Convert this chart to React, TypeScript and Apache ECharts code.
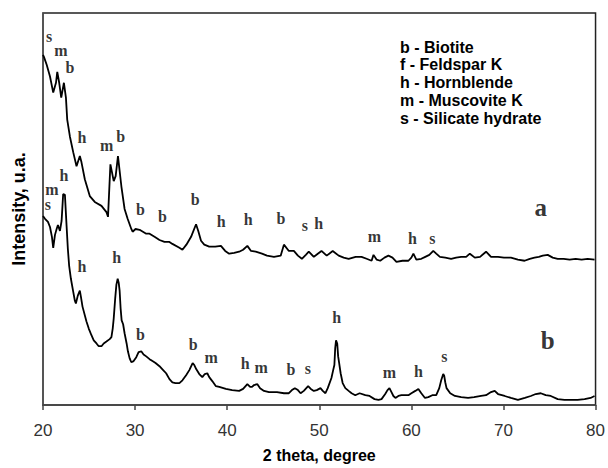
import React, { useEffect, useRef } from "react";
import * as echarts from "echarts";

// 2-theta positions (degree) and intensities (arbitrary units) of pattern a
const curveA: number[][] = [
  [20.0, 89.3], [20.1, 88.8], [20.4, 86.8], [20.76, 83.8], [21.11, 79.7], [21.41, 82.2], [21.55, 85.0],
  [21.76, 82.2], [21.98, 78.4], [22.27, 82.2], [22.49, 78.4], [22.63, 72.8], [22.92, 68.5], [23.28, 64.5],
  [23.64, 60.9], [24.0, 63.5], [24.18, 61.9], [24.54, 57.6], [25.08, 53.3], [25.62, 51.8], [26.35, 50.8],
  [26.89, 49.2], [27.06, 48.0], [27.32, 61.4], [27.68, 57.1], [27.89, 58.4], [28.14, 63.5], [28.51, 55.8],
  [28.86, 50.0], [29.19, 47.5], [29.59, 44.9], [29.73, 44.2], [30.05, 44.9], [30.49, 44.7], [31.21, 43.7],
  [31.57, 43.7], [32.11, 42.9], [32.65, 42.1], [33.19, 41.6], [33.73, 41.6], [34.05, 41.1], [34.81, 40.1],
  [35.14, 39.6], [35.57, 40.9], [36.08, 42.9], [36.62, 46.1], [36.86, 44.4], [37.16, 41.9], [37.51, 40.9],
  [38.05, 40.4], [38.7, 40.4], [39.32, 40.6], [39.78, 39.3], [40.22, 38.6], [40.76, 38.8], [41.3, 39.1],
  [41.73, 39.6], [42.19, 40.6], [42.59, 39.3], [43.1, 39.1], [43.78, 38.6], [44.32, 38.1], [45.08, 37.8],
  [45.81, 38.1], [46.16, 40.9], [46.7, 39.3], [47.24, 39.3], [47.68, 38.1], [48.11, 37.3], [48.54, 38.3],
  [48.86, 39.1], [49.41, 37.8], [49.84, 38.6], [50.24, 39.3], [50.81, 38.1], [51.46, 39.3], [52.11, 38.1],
  [52.65, 37.6], [53.19, 37.3], [53.95, 37.8], [54.59, 37.8], [55.14, 37.3], [55.68, 36.8], [55.89, 38.3],
  [56.22, 37.1], [56.62, 36.8], [57.08, 37.6], [57.51, 38.1], [57.95, 37.6], [58.38, 36.5], [59.03, 36.8],
  [59.68, 36.8], [60.0, 37.6], [60.22, 38.6], [60.54, 37.1], [61.08, 37.3], [61.51, 37.8], [61.95, 38.3],
  [62.38, 39.3], [62.7, 38.6], [63.1, 37.8], [63.68, 37.6], [64.32, 37.3], [64.86, 37.6], [65.41, 37.8],
  [65.95, 37.8], [66.35, 38.6], [66.89, 37.6], [67.46, 37.8], [68.11, 39.1], [68.65, 37.8], [69.41, 37.8],
  [70.05, 37.6], [70.81, 37.6], [71.57, 37.1], [72.29, 36.8], [72.86, 37.3], [73.37, 37.6], [73.84, 37.8],
  [74.27, 38.1], [74.81, 38.3], [75.35, 37.6], [75.89, 37.3], [76.54, 37.3], [77.19, 37.1], [77.84, 37.3],
  [78.49, 37.1], [79.14, 37.3], [79.89, 37.1],
];

// 2-theta positions (degree) and intensities (arbitrary units) of pattern b
const curveB: number[][] = [
  [20.0, 48.2], [20.22, 47.5], [20.54, 46.7], [20.76, 45.4], [20.97, 42.9], [21.11, 40.1], [21.3, 43.4],
  [21.48, 44.9], [21.62, 45.9], [21.84, 44.4], [22.02, 47.0], [22.19, 53.8], [22.38, 53.6], [22.56, 45.7],
  [22.7, 39.8], [22.84, 35.5], [23.03, 32.2], [23.28, 28.9], [23.46, 26.6], [23.57, 25.9], [23.78, 27.9],
  [24.0, 29.2], [24.11, 27.7], [24.29, 25.1], [24.72, 21.3], [24.97, 19.5], [25.26, 17.8], [25.51, 16.5],
  [25.81, 15.7], [26.05, 15.0], [26.35, 15.0], [26.59, 15.7], [26.89, 16.2], [27.24, 16.8], [27.43, 17.3],
  [27.57, 19.5], [27.68, 22.1], [27.84, 27.2], [27.97, 30.7], [28.11, 32.2], [28.22, 31.2], [28.32, 29.2],
  [28.43, 24.6], [28.54, 21.6], [28.7, 20.6], [28.86, 18.3], [29.08, 15.7], [29.22, 13.7], [29.41, 11.9],
  [29.59, 10.9], [29.84, 11.2], [30.13, 12.2], [30.38, 13.5], [30.67, 13.7], [30.92, 12.9], [31.21, 12.4],
  [31.57, 11.7], [31.89, 11.2], [32.22, 10.7], [32.65, 9.9], [32.97, 9.1], [33.37, 8.1], [33.73, 6.6],
  [34.05, 5.8], [34.38, 5.6], [34.81, 5.6], [35.14, 6.3], [35.54, 7.6], [35.89, 8.9], [36.25, 10.7],
  [36.43, 10.2], [36.65, 9.1], [36.97, 7.9], [37.3, 7.1], [37.57, 7.9], [37.84, 8.1], [38.05, 7.1],
  [38.38, 6.1], [38.78, 4.8], [39.14, 4.6], [39.86, 4.1], [40.54, 3.8], [41.3, 3.6], [41.73, 4.1],
  [42.19, 5.3], [42.49, 4.6], [42.7, 4.6], [42.92, 5.1], [43.28, 5.3], [43.57, 4.3], [44.0, 3.6],
  [44.54, 3.3], [45.41, 3.3], [46.16, 3.0], [46.7, 3.0], [47.03, 3.8], [47.35, 4.3], [47.68, 3.8],
  [47.97, 3.0], [48.32, 3.6], [48.79, 4.8], [49.08, 4.1], [49.41, 3.6], [49.73, 3.8], [50.13, 4.3],
  [50.38, 3.6], [50.67, 3.0], [50.92, 4.3], [51.32, 6.9], [51.51, 8.9], [51.64, 10.2], [51.73, 14.5],
  [51.82, 16.5], [51.95, 15.7], [52.05, 12.4], [52.16, 10.7], [52.32, 8.1], [52.54, 5.6], [52.83, 4.3],
  [53.19, 3.6], [53.51, 3.0], [53.91, 2.5], [54.38, 3.0], [55.0, 2.5], [55.46, 2.3], [56.0, 1.5],
  [56.43, 1.3], [56.76, 1.5], [57.16, 2.8], [57.41, 3.8], [57.62, 4.3], [57.84, 3.3], [58.05, 2.3],
  [58.27, 1.8], [58.59, 2.3], [58.92, 2.5], [59.32, 2.5], [59.68, 2.5], [60.0, 3.0], [60.43, 3.6],
  [60.76, 4.1], [61.08, 3.0], [61.48, 1.8], [61.84, 2.0], [62.27, 2.5], [62.7, 2.5], [63.03, 4.3],
  [63.24, 6.3], [63.46, 7.9], [63.57, 7.4], [63.68, 5.8], [63.82, 4.3], [64.22, 3.0], [64.73, 2.3],
  [65.41, 2.0], [66.16, 1.8], [66.81, 2.0], [67.57, 2.3], [68.11, 2.5], [68.65, 3.3], [69.05, 3.6],
  [69.41, 2.8], [70.13, 2.3], [70.81, 1.8], [71.57, 1.3], [72.32, 1.8], [72.97, 2.3], [73.51, 2.8],
  [74.05, 3.0], [74.59, 2.5], [75.14, 2.3], [75.89, 1.5], [76.62, 1.3], [77.3, 1.3], [78.05, 1.3],
  [78.81, 1.5], [79.46, 1.8], [79.89, 2.3],
];

// Phase letters over the reflections: [2-theta, intensity, letter]
const phaseMarksA: (number | string)[][] = [
  [20.65, 93.9, "s"], [21.95, 90.4, "m"], [22.92, 86.0, "b"], [24.22, 68.3, "h"], [26.92, 66.2, "m"],
  [28.43, 68.5, "b"], [30.59, 50.0, "b"], [32.97, 48.0, "b"], [36.54, 52.3, "b"], [39.35, 46.7, "h"],
  [42.27, 47.2, "h"], [45.84, 47.5, "b"], [48.43, 45.9, "s"], [49.95, 46.4, "h"], [56.0, 43.1, "m"],
  [60.11, 42.4, "h"], [62.27, 42.6, "s"],
];
const phaseMarksB: (number | string)[][] = [
  [20.54, 51.1, "s"], [20.97, 55.0, "m"], [22.27, 58.6, "h"], [24.22, 35.3, "h"], [28.0, 37.6, "h"],
  [30.59, 18.0, "b"], [36.32, 15.5, "b"], [38.27, 12.2, "m"], [41.95, 10.7, "h"], [43.68, 9.6, "m"],
  [46.92, 9.1, "b"], [48.76, 9.4, "s"], [51.89, 22.3, "h"], [57.62, 8.4, "m"], [60.76, 8.6, "h"],
  [63.57, 12.4, "s"],
];
// Pattern names placed next to each trace
const patternNames: (number | string)[][] = [
  [74.05, 50.3, "a"],
  [74.81, 16.5, "b"],
];

// Key to the phase letters
const phaseKey: string[] = [
  "b - Biotite",
  "f - Feldspar K",
  "h - Hornblende",
  "m - Muscovite K",
  "s - Silicate hydrate",
];

// Tick values of the 2-theta axis
const xMin = 20;
const xMax = 80;
const xStep = 10;

const letterSeries = (data: (number | string)[][], size: number) => ({
  type: "scatter",
  data,
  symbolSize: 0,
  silent: true,
  z: 5,
  label: {
    show: true,
    position: "inside",
    formatter: (p: any) => String(p.value[2]),
    fontFamily: "'Liberation Serif', 'Times New Roman', serif",
    fontWeight: "bold",
    fontSize: size,
    lineHeight: Math.round(size * 0.75),
    color: "#000",
  },
});

export default function App() {
  const ref = useRef<HTMLDivElement>(null);

  useEffect(() => {
    if (!ref.current) return;
    const chart = echarts.init(ref.current, undefined, { renderer: "svg" });
    const sans = "'Liberation Sans', Arial, sans-serif";

    chart.setOption({
      animation: false,
      backgroundColor: "#fff",
      grid: {
        left: 43,
        right: 10,
        top: 13,
        bottom: 61,
        show: true,
        borderColor: "#222",
        borderWidth: 1.5,
        backgroundColor: "transparent",
      },
      xAxis: {
        type: "value",
        min: xMin,
        max: xMax,
        interval: xStep,
        name: "2 theta, degree",
        nameLocation: "middle",
        nameGap: 42,
        nameTextStyle: {
          fontFamily: "'Liberation Sans Narrow', " + sans,
          fontWeight: "bold",
          fontSize: 16,
          color: "#000",
        },
        axisLine: { show: true, lineStyle: { color: "#444", width: 1.5 } },
        axisTick: { show: true, inside: false, length: 5, lineStyle: { color: "#444", width: 1.5 } },
        axisLabel: { margin: 17, fontFamily: sans, fontSize: 17, color: "#333" },
        splitLine: { show: false },
      },
      yAxis: {
        type: "value",
        min: 0,
        max: 100,
        name: "Intensity, u.a.",
        nameLocation: "middle",
        nameGap: 15,
        nameTextStyle: {
          fontFamily: sans,
          fontWeight: "bold",
          fontSize: 18,
          color: "#000",
        },
        axisLine: { show: true, lineStyle: { color: "#555", width: 1.5 } },
        axisTick: { show: false },
        axisLabel: { show: false },
        splitLine: { show: false },
      },
      graphic: phaseKey.map((t, i) => ({
        type: "text",
        left: 400,
        top: 39 + i * 17.8,
        silent: true,
        style: {
          text: t,
          fontFamily: sans,
          fontWeight: "bold",
          fontSize: 16,
          fill: "#000",
        },
      })),
      series: [
        {
          type: "line",
          data: curveA,
          showSymbol: false,
          silent: true,
          lineStyle: { color: "#000", width: 1.8 },
        },
        {
          type: "line",
          data: curveB,
          showSymbol: false,
          silent: true,
          lineStyle: { color: "#000", width: 1.8 },
        },
        letterSeries(phaseMarksA, 16),
        letterSeries(phaseMarksB, 16),
        letterSeries(patternNames, 25),
      ],
    });

    return () => chart.dispose();
  }, []);

  return <div ref={ref} style={{ width: 608, height: 468, position: "absolute", left: 0, top: 0 }} />;
}
